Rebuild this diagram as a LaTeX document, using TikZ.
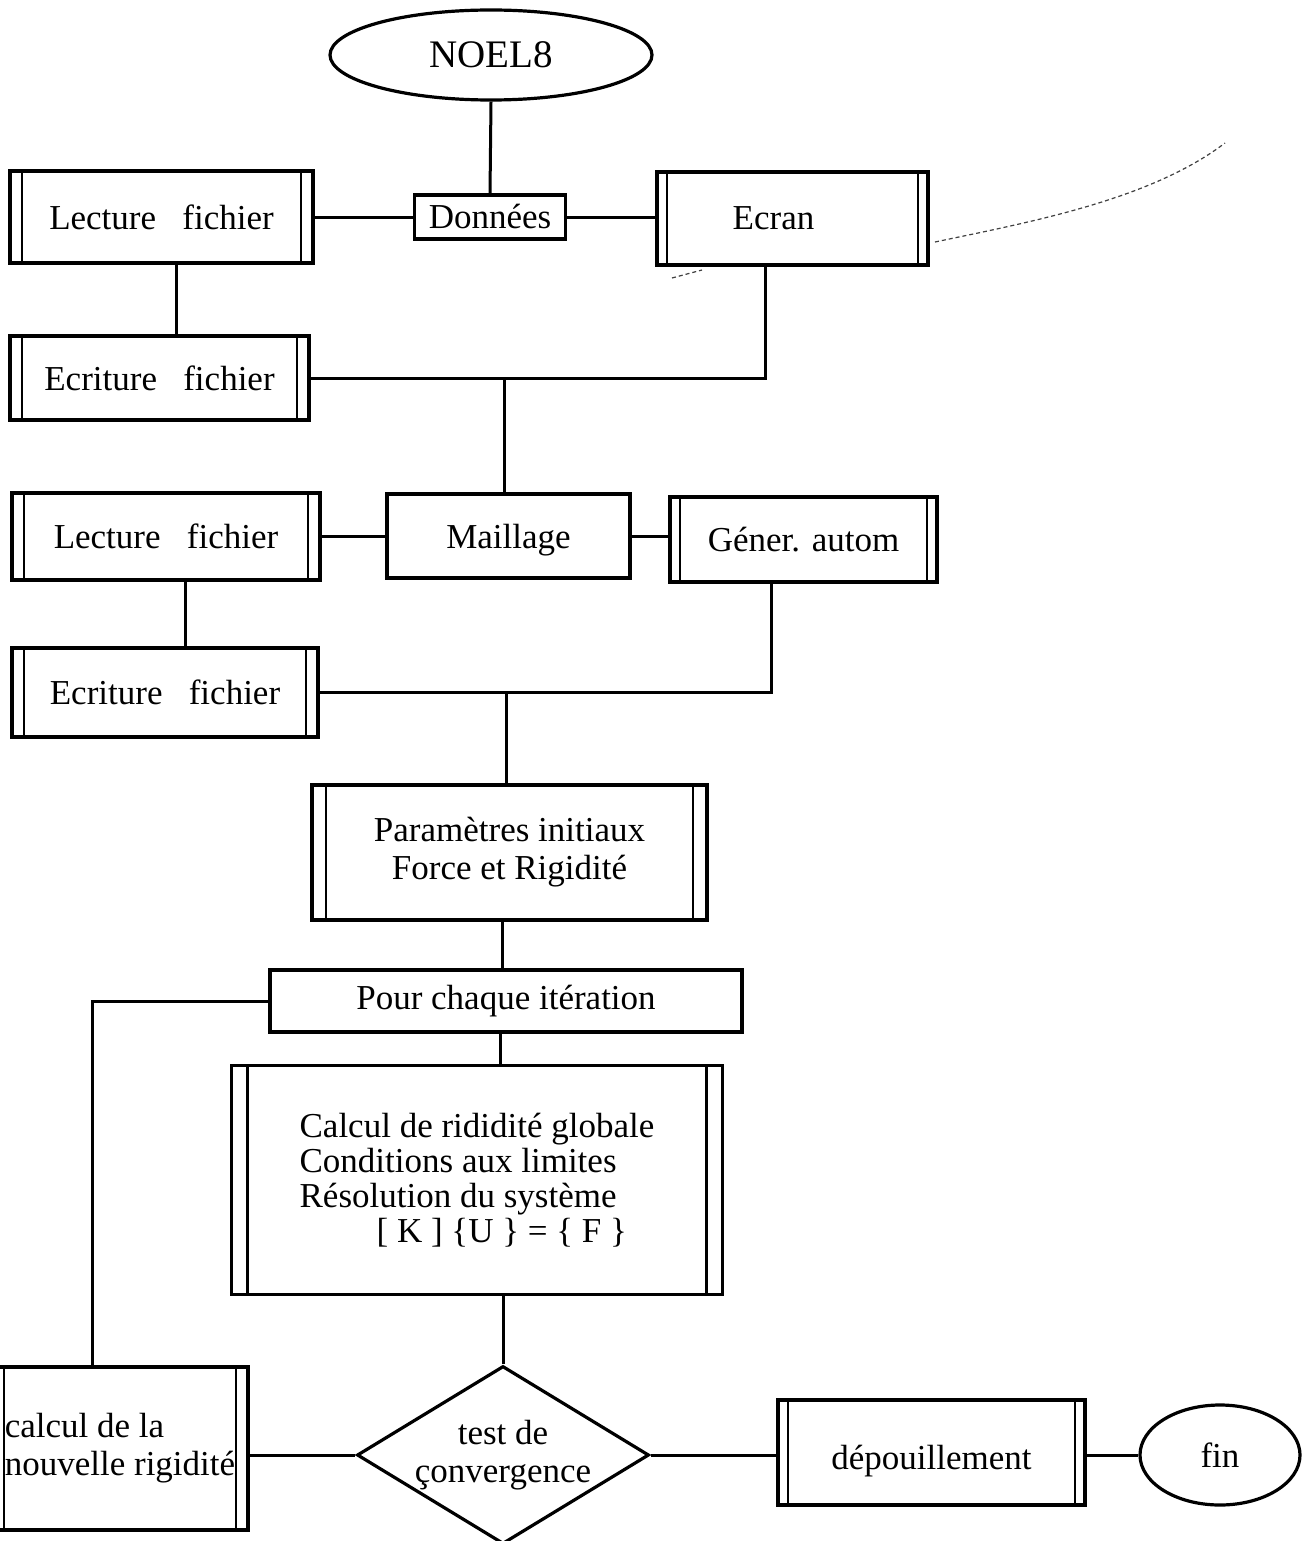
\documentclass[tikz,border=0pt]{standalone}
\usepackage{fontspec}
\setmainfont{Liberation Serif}
\usetikzlibrary{shapes.geometric}

\tikzset{
  frame/.style={draw, line width=3.2pt, rectangle, inner sep=0pt, align=center},
  dbox/.style={frame,
    path picture={
      \draw[line width=2.2pt]
        ([xshift=#1]path picture bounding box.south west) --
        ([xshift=#1]path picture bounding box.north west)
        ([xshift=-#1]path picture bounding box.south east) --
        ([xshift=-#1]path picture bounding box.north east);
    }},
  dbox/.default=12pt,
  oval/.style={draw, line width=3.2pt, ellipse, inner sep=0pt},
  link/.style={line width=3pt},
  pencil/.style={line width=1.2pt, black!75, dash pattern=on 4pt off 3pt},
}

\begin{document}
\begin{tikzpicture}[x=1pt, y=-1pt, font=\fontsize{35pt}{38pt}\selectfont]
\useasboundingbox (0,0) rectangle (1310,1541);

% input stage
\node[oval, minimum width=322pt, minimum height=90pt, font=\fontsize{39pt}{40pt}\selectfont]
  (noel) at (491,55) {NOEL8};
\node[frame, minimum width=151pt, minimum height=44pt] (donnees) at (490,217) {Données};
\node[dbox, minimum width=303pt, minimum height=92pt] (lect1) at (161.5,217) {Lecture\ \ \ fichier};
\node[dbox=10pt, minimum width=271pt, minimum height=93pt] (ecran) at (792.5,218.5) {Ecran\hspace*{38pt}};
\node[dbox, minimum width=299pt, minimum height=84pt] (ecr1) at (159.5,378) {Ecriture\ \ \ fichier};

% mesh stage
\node[frame, minimum width=243pt, minimum height=84pt] (maillage) at (508.5,536)
  {\raisebox{-12pt}[0pt][0pt]{Maillage}};
\node[dbox, minimum width=308pt, minimum height=87pt] (lect2) at (166,536.5) {Lecture\ \ \ fichier};
\node[dbox=10pt, minimum width=267pt, minimum height=85pt] (gener) at (803.5,539.5) {Géner. autom};
\node[dbox, minimum width=306pt, minimum height=89pt] (ecr2) at (165,692.5) {Ecriture\ \ \ fichier};

% solver stage
\node[dbox=14pt, minimum width=395pt, minimum height=135pt] (param) at (509.5,852.5)
  {Paramètres initiaux\\Force et Rigidité};
\node[frame, minimum width=472pt, minimum height=62pt] (pour) at (506,1001) {Pour chaque itération};
\node[dbox=16pt, minimum width=491pt, minimum height=229pt, align=left,
      font=\fontsize{35pt}{35pt}\selectfont] (calc) at (477,1180)
  {Calcul de rididité globale\\Conditions aux limites\\Résolution du système\\
   \hspace*{2.2em}[ K ] \{U \} = \{ F \}};

% convergence loop and output
\node[draw, line width=3.2pt, diamond, aspect=1.64, inner sep=0pt,
      minimum width=292pt, minimum height=178pt, align=center] (test) at (503,1455)
  {test de\\çonvergence};
\node[dbox, minimum width=256pt, minimum height=163pt, align=left] (nouv) at (120,1448.5)
  {calcul de la\\nouvelle rigidité};
\node[dbox=10pt, minimum width=307pt, minimum height=105pt] (depou) at (931.5,1452.5)
  {\raisebox{-17pt}[0pt][0pt]{dépouillement}};
\node[oval, minimum width=160pt, minimum height=100pt] (fin) at (1220,1455) {fin};

% connectors
\draw[link] (noel.south) -- (donnees.north);
\draw[link] (lect1.east) -- (donnees.west);
\draw[link] (donnees.east) -- (donnees.east -| ecran.west);
\draw[link] ([xshift=15pt]lect1.south) -- ([xshift=15pt]lect1.south |- ecr1.north);
\draw[link] (ecr1.east) -| ([xshift=-27pt]ecran.south);
\draw[link] ([xshift=-4pt]maillage.north) -- ([xshift=-4pt]maillage.north |- ecr1.east);

\draw[link] (lect2.east) -- (lect2.east -| maillage.west);
\draw[link] (maillage.east) -- (maillage.east -| gener.west);
\draw[link] ([xshift=19pt]lect2.south) -- ([xshift=19pt]lect2.south |- ecr2.north);
\draw[link] (ecr2.east) -| ([xshift=-32.5pt]gener.south);
\draw[link] ([xshift=-3.5pt]param.north) -- ([xshift=-3.5pt]param.north |- ecr2.east);

\draw[link] ([xshift=-7.5pt]param.south) -- ([xshift=-7.5pt]param.south |- pour.north);
\draw[link] (pour.west) -| ([xshift=-28pt]nouv.north);
\draw[link] ([xshift=-6pt]pour.south) -- ([xshift=-6pt]pour.south |- calc.north);
\draw[link] (calc.south -| test.north) -- (test.north);
\draw[link] (test.west -| nouv.east) -- (test.west);
\draw[link] (test.east) -- (test.east -| depou.west);
\draw[link] (fin.west -| depou.east) -- (fin.west);

% pencil strokes beside the screen box
\coordinate (pa) at (935,242);
\coordinate (pb) at (1225,143);
\draw[pencil] (pa) .. controls (1030,222) and (1150,200) .. (pb);
\coordinate (pc) at (672,278);
\coordinate (pd) at (702,270);
\draw[pencil] (pc) -- (pd);
\end{tikzpicture}
\end{document}
